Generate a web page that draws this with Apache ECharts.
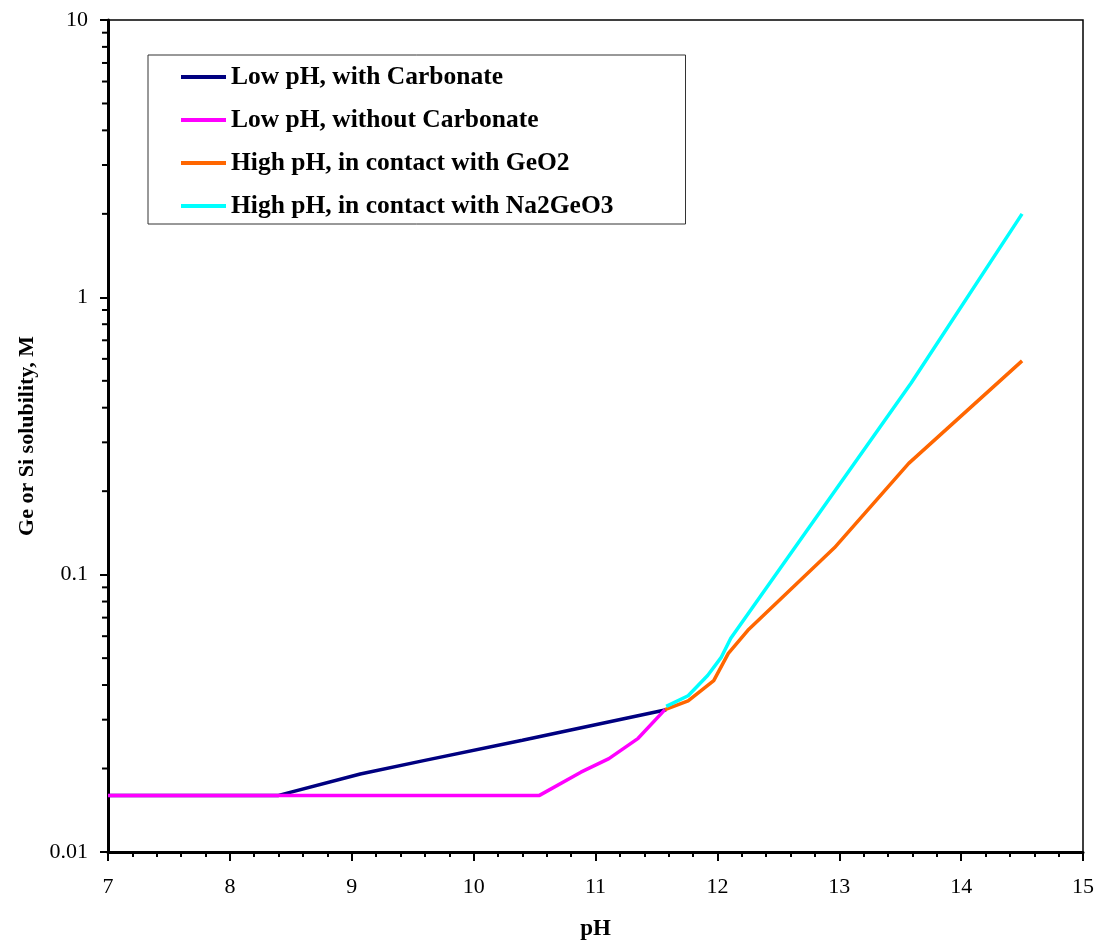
<!DOCTYPE html>
<html>
<head>
<meta charset="utf-8">
<script src="https://cdn.jsdelivr.net/npm/echarts@6/dist/echarts.min.js"></script>
<style>html,body{margin:0;padding:0;background:#fff;overflow:hidden}#chart{width:1096px;height:940px}</style>
</head>
<body>
<div id="chart"></div>
<script>
const seriesNames = ['Low pH, with Carbonate', 'Low pH, without Carbonate', 'High pH, in contact with GeO2', 'High pH, in contact with Na2GeO3'];
const seriesColors = ['#000080', '#FF00FF', '#FF6600', '#00FFFF'];

const withCarbPH = [7, 8.4, 9.07, 9.6, 10.4, 11.58];
const withCarbVal = [0.016, 0.016, 0.0191, 0.0214, 0.0253, 0.0326];

const noCarbPH = [7, 10.54, 10.88, 11.11, 11.35, 11.57];
const noCarbVal = [0.016, 0.016, 0.0194, 0.0217, 0.0257, 0.0326];

const geo2PH = [11.57, 11.76, 11.97, 12.09, 12.25, 12.96, 13.57, 14.5];
const geo2Val = [0.0326, 0.0351, 0.0415, 0.052, 0.063, 0.125, 0.252, 0.59];

const na2PH = [11.58, 11.76, 11.92, 12.03, 12.11, 13.59, 14.5];
const na2Val = [0.0335, 0.0366, 0.0433, 0.0502, 0.059, 0.491, 2.0];

const yMinorTicks = [0.02,0.03,0.04,0.05,0.06,0.07,0.08,0.09,
                     0.2,0.3,0.4,0.5,0.6,0.7,0.8,0.9,
                     2,3,4,5,6,7,8,9];

const FONT = "'Liberation Serif', 'Times New Roman', serif";
const zip = (a, b) => a.map((x, i) => [x, b[i]]);
const pairs = [zip(withCarbPH, withCarbVal), zip(noCarbPH, noCarbVal), zip(geo2PH, geo2Val), zip(na2PH, na2Val)];

const chart = echarts.init(document.getElementById('chart'), null, {renderer: 'canvas'});
const lineSeries = pairs.map((d, i) => ({
  name: seriesNames[i],
  type: 'line',
  data: d,
  showSymbol: false,
  symbol: 'none',
  lineStyle: {color: seriesColors[i], width: 3.5},
  itemStyle: {color: seriesColors[i]},
  z: 3 + i
}));

chart.setOption({
  animation: false,
  backgroundColor: '#fff',
  grid: {left: 108, right: 13, top: 20, bottom: 88, show: true, borderColor: '#000', borderWidth: 1.5,
         containLabel: false, outerBoundsMode: 'none'},
  legend: {
    orient: 'vertical',
    left: 148, top: 55,
    padding: [9, 72, 5, 33],
    itemGap: 17,
    itemWidth: 45, itemHeight: 4,
    icon: 'rect',
    borderColor: '#333', borderWidth: 1,
    backgroundColor: '#fff',
    data: seriesNames,
    textStyle: {fontFamily: FONT, fontWeight: 'bold', fontSize: 25.5, lineHeight: 25, color: '#000'}
  },
  xAxis: {
    type: 'value', min: 7, max: 15, interval: 1,
    axisLine: {show: true, onZero: false, lineStyle: {color: '#000', width: 3}},
    axisTick: {show: true, inside: false, length: 9, lineStyle: {color: '#000', width: 2}},
    minorTick: {show: true, splitNumber: 5, length: 5, lineStyle: {color: '#000', width: 2}},
    splitLine: {show: false},
    axisLabel: {fontFamily: FONT, fontSize: 22, color: '#000', margin: 24},
    name: 'pH', nameLocation: 'middle', nameGap: 66,
    nameTextStyle: {fontFamily: FONT, fontWeight: 'bold', fontSize: 23, color: '#000'}
  },
  yAxis: {
    type: 'log', logBase: 10, min: 0.01, max: 10,
    axisLine: {show: true, onZero: false, lineStyle: {color: '#000', width: 3}},
    axisTick: {show: true, inside: false, length: 8, lineStyle: {color: '#000', width: 2}},
    splitLine: {show: false},
    axisLabel: {fontFamily: FONT, fontSize: 22, color: '#000', margin: 20,
      formatter: v => String(+v.toPrecision(6))},
    name: 'Ge or Si solubility, M', nameLocation: 'middle', nameGap: 69,
    nameTextStyle: {fontFamily: FONT, fontWeight: 'bold', fontSize: 22, color: '#000'}
  },
  series: [
    {
      type: 'custom',
      silent: true,
      clip: false,
      data: yMinorTicks.map(v => [7, v]),
      renderItem: (params, api) => {
        const p = api.coord([api.value(0), api.value(1)]);
        return {type: 'line', shape: {x1: p[0] - 6, y1: p[1], x2: p[0], y2: p[1]},
                style: {stroke: '#000', lineWidth: 2}};
      },
      z: 10
    }
  ].concat(lineSeries)
});
</script>
</body>
</html>
